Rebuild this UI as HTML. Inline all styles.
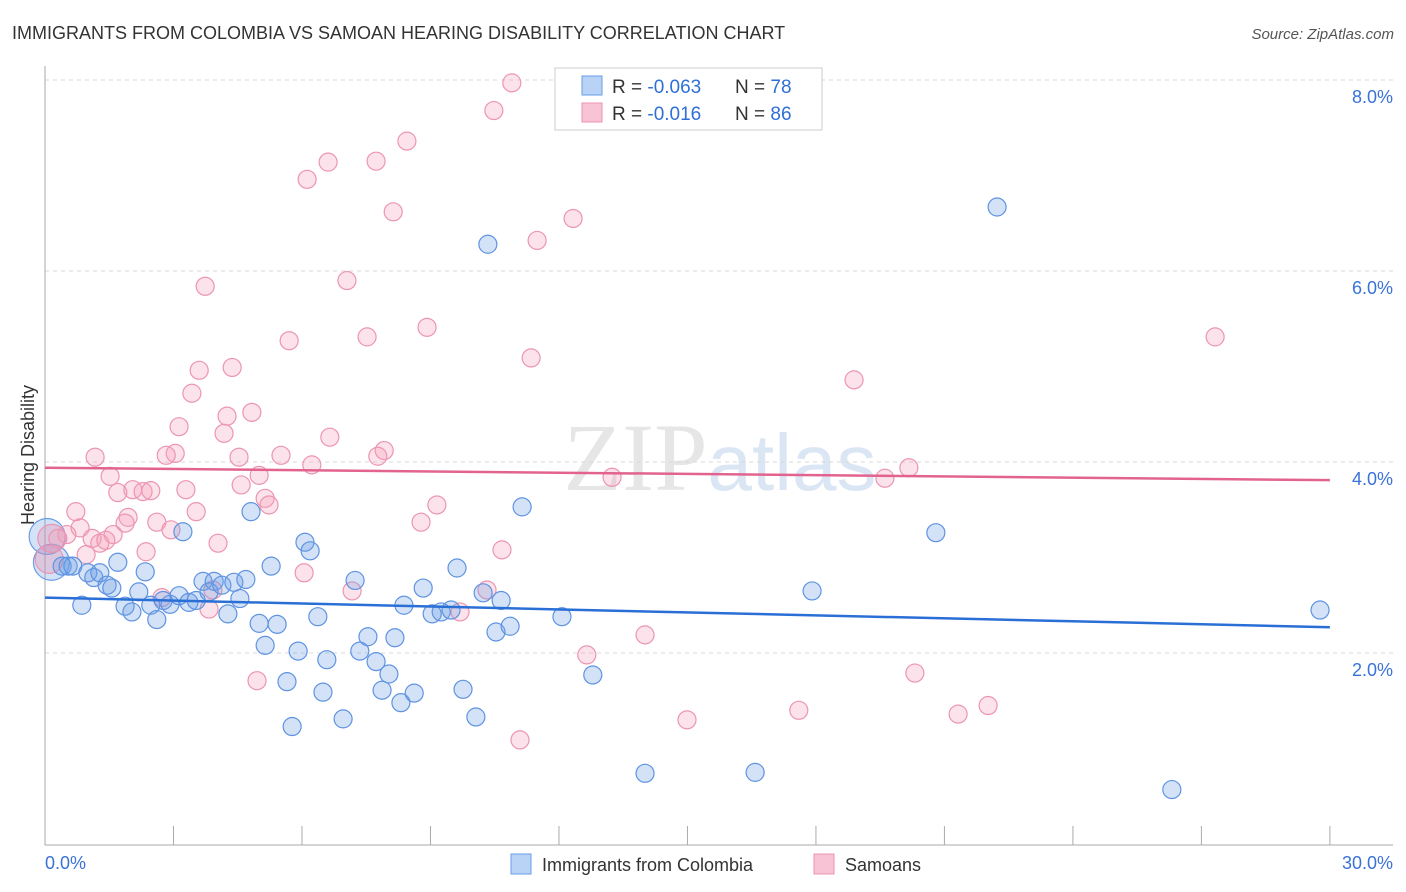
<!DOCTYPE html>
<html><head><meta charset="utf-8"><style>
body{margin:0;background:#fff;font-family:"Liberation Sans",sans-serif;}
svg{display:block}
</style></head><body>
<svg width="1406" height="892" id="chart">
<text x="12" y="39" font-size="18" fill="#333">IMMIGRANTS FROM COLOMBIA VS SAMOAN HEARING DISABILITY CORRELATION CHART</text>
<text x="1394" y="39" font-size="15" fill="#555" font-style="italic" text-anchor="end">Source: ZipAtlas.com</text>
<text x="720" y="490" font-size="96" fill="#e6e6e6" text-anchor="middle" font-family="Liberation Serif,serif">ZIP<tspan fill="#dbe6f5" font-family="Liberation Sans,sans-serif" font-size="80">atlas</tspan></text>
<text x="34" y="455" font-size="18" fill="#333" text-anchor="middle" transform="rotate(-90 34 455)">Hearing Disability</text>
<g id="grid"></g><g id="axes"></g><g id="pts"></g><g id="trends"></g>
<g>
<rect x="555" y="68" width="267" height="62" fill="#fff" stroke="#ccc"/>
<rect x="582" y="76" width="20" height="19" fill="#b8d3f5" stroke="#6a9de6"/>
<rect x="582" y="103" width="20" height="19" fill="#f8c3d4" stroke="#ec95b2"/>
<text x="612" y="93" font-size="19" fill="#333">R = <tspan fill="#2f6fd8">-0.063</tspan></text>
<text x="735" y="93" font-size="19" fill="#333">N = <tspan fill="#2f6fd8">78</tspan></text>
<text x="612" y="120" font-size="19" fill="#333">R = <tspan fill="#2f6fd8"> -0.016</tspan></text>
<text x="735" y="120" font-size="19" fill="#333">N = <tspan fill="#2f6fd8">86</tspan></text>
</g>
<g>
<rect x="511" y="854" width="20" height="20" fill="#b8d3f5" stroke="#6a9de6"/>
<text x="542" y="871" font-size="18" fill="#333">Immigrants from Colombia</text>
<rect x="814" y="854" width="20" height="20" fill="#f8c3d4" stroke="#ec95b2"/>
<text x="845" y="871" font-size="18" fill="#333">Samoans</text>
</g>
</svg>
<script>
const yTicks=[2,4,6,8];
const yTickLabels=["2.0%","4.0%","6.0%","8.0%"];
const xTicks=[0,3,6,9,12,15,18,21,24,27,30];
const xEndLabels=["0.0%","30.0%"];
const blueX=[0.86,0.40,0.54,0.65,1.00,1.14,1.28,1.45,1.56,1.70,1.87,2.03,2.19,2.34,2.47,2.61,2.76,2.92,3.13,3.22,3.36,3.53,3.69,3.83,3.95,4.13,4.27,4.41,4.55,4.69,4.81,5.00,5.14,5.28,5.42,5.65,5.77,5.91,6.07,6.19,6.37,6.49,6.58,6.96,7.24,7.35,7.54,7.73,7.87,8.03,8.17,8.31,8.38,8.62,8.83,9.04,9.25,9.48,9.62,9.76,10.06,10.23,10.53,10.65,10.86,11.14,12.07,12.79,14.01,16.58,17.91,20.80,22.23,26.31,29.77,10.34];
const blueY=[2.50,2.91,2.91,2.91,2.84,2.79,2.84,2.71,2.68,2.95,2.49,2.43,2.64,2.85,2.50,2.35,2.55,2.51,2.60,3.27,2.53,2.55,2.75,2.64,2.75,2.71,2.41,2.74,2.57,2.77,3.48,2.31,2.08,2.91,2.30,1.70,1.23,2.02,3.16,3.07,2.38,1.59,1.93,1.31,2.76,2.02,2.17,1.91,1.61,1.78,2.16,1.48,2.50,1.58,2.68,2.41,2.43,2.45,2.89,1.62,1.33,2.63,2.22,2.55,2.28,3.53,2.38,1.77,0.74,0.75,2.65,3.26,6.67,0.57,2.45,6.28];
const blueBigX=[0.05,0.15];
const blueBigY=[3.22,2.95];
const pinkX=[10.90,10.48,8.45,7.73,6.61,6.12,8.13,12.33,11.49,7.05,3.74,5.70,7.52,8.92,11.35,27.32,18.89,3.60,4.37,3.43,4.83,4.25,3.13,4.18,6.65,7.92,7.77,3.04,2.83,1.17,4.53,5.51,6.23,20.17,19.61,13.24,1.52,5.00,4.58,3.29,2.05,2.29,2.47,1.70,5.14,5.23,9.15,0.72,3.53,1.94,1.87,2.61,8.78,0.82,2.94,0.51,1.59,1.10,0.30,1.28,1.42,4.04,0.96,2.36,10.67,6.05,7.17,10.32,3.92,2.73,3.83,9.69,14.01,12.65,20.31,4.95,22.02,17.60,21.32,14.99,11.09];
const pinkY=[7.97,7.68,7.36,7.15,7.14,6.96,6.62,6.55,6.32,5.90,5.84,5.27,5.31,5.41,5.09,5.31,4.86,4.96,4.99,4.72,4.52,4.48,4.37,4.30,4.26,4.12,4.06,4.09,4.07,4.05,4.05,4.07,3.97,3.94,3.83,3.84,3.85,3.86,3.76,3.71,3.71,3.69,3.70,3.68,3.62,3.55,3.55,3.48,3.48,3.42,3.36,3.37,3.37,3.31,3.29,3.24,3.24,3.20,3.20,3.15,3.18,3.15,3.03,3.06,3.08,2.84,2.65,2.66,2.66,2.58,2.46,2.43,2.19,1.98,1.79,1.71,1.45,1.40,1.36,1.30,1.09];
const pinkBigX=[0.16,0.10];
const pinkBigY=[3.20,2.98];
const blueTrend=[2.58,2.27];
const pinkTrend=[3.94,3.81];
const NS="http://www.w3.org/2000/svg";
const xs=v=>45+v*42.83;
const ys=v=>844-v*95.5;
function mk(tag,attrs,parent){const e=document.createElementNS(NS,tag);for(const k in attrs)e.setAttribute(k,attrs[k]);document.getElementById(parent).appendChild(e);return e;}
yTicks.forEach((t,i)=>{
 const l=mk('line',{x1:45,x2:1393,y1:ys(t),y2:ys(t),stroke:'#d8d8d8','stroke-dasharray':'4 4'},'grid');
 
 
 const tx=mk('text',{x:1393,y:ys(t)+23,'font-size':18,fill:'#3a72d8','text-anchor':'end'},'grid');
 tx.textContent=yTickLabels[i];
 
 
});
const ax=mk('line',{x1:45,x2:45,y1:66,y2:845,stroke:'#aaa'},'axes');


const bx=mk('line',{x1:45,x2:1393,y1:845,y2:845,stroke:'#aaa'},'axes');


xTicks.forEach(t=>{
 const l=mk('line',{x1:xs(t),x2:xs(t),y1:826,y2:845,stroke:'#aaa'},'axes');
 
 
});
[[0,'start'],[30,'end']].forEach((p,i)=>{
 const tx=mk('text',{x:i?1393:45,y:869,'font-size':18,fill:'#3a72d8','text-anchor':p[1]},'axes');
 tx.textContent=xEndLabels[i];
 
 
});
function dots(X,Y,r,fill,stroke,name){
 X.forEach((x,i)=>{
  const c=mk('circle',{cx:xs(x),cy:ys(Y[i]),r:r,fill:fill,stroke:stroke,'stroke-width':1.2},'pts');
  
  
 });
}
dots(blueBigX,blueBigY,18,'rgba(110,160,230,0.3)','#6a9de6','point-colombia-large');
dots(pinkBigX,pinkBigY,14,'rgba(240,140,170,0.3)','#ec95b2','point-samoan-large');
dots(pinkX,pinkY,9,'rgba(245,160,185,0.3)','#ec95b2','point-samoan');
dots(blueX,blueY,9,'rgba(110,160,230,0.3)','#5f93e2','point-colombia');
const bt=mk('line',{x1:xs(0),x2:xs(30),y1:ys(blueTrend[0]),y2:ys(blueTrend[1]),stroke:'#2a6fd6','stroke-width':2.5},'trends');


const pt=mk('line',{x1:xs(0),x2:xs(30),y1:ys(pinkTrend[0]),y2:ys(pinkTrend[1]),stroke:'#e2648e','stroke-width':2.5},'trends');


</script>
</body></html>
